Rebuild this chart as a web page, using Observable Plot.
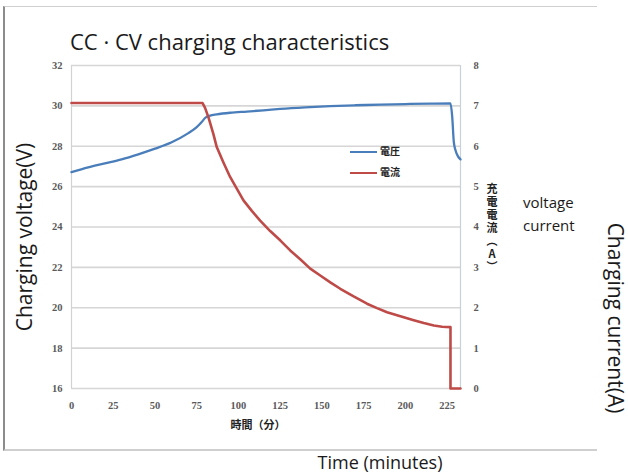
<!DOCTYPE html>
<html>
<head>
<meta charset="utf-8">
<script src="https://cdn.jsdelivr.net/npm/d3@7"></script>
<script src="https://cdn.jsdelivr.net/npm/@observablehq/plot@0.6"></script>
<style>
  html, body { margin: 0; padding: 0; background: #fff; }
  #wrap { position: relative; width: 628px; height: 476px; overflow: hidden; background: #fff; }
  #wrap svg { position: absolute; left: 0; top: 0; }
  .t { position: absolute; white-space: nowrap; font-family: "Open Sans", sans-serif; color: #1a1a1a; line-height: 1; }
  .jp { position: absolute; white-space: nowrap; font-family: "Noto Sans CJK JP", sans-serif; color: #222; font-weight: bold; line-height: 1; }
  .sw { position: absolute; height: 0; }
</style>
</head>
<body>
<div id="wrap">
  <div id="frame" style="position:absolute;left:3px;top:6px;width:592px;height:442px;border-left:2px solid #8c8c8c;border-top:1px solid #cfcfcf;border-bottom:2px solid #cfcfcf;"></div>
</div>
<script>
// Time (minutes)
const voltTime = [0, 10, 20, 30, 40, 50, 60, 70, 75, 78, 80, 83, 87, 95, 105, 115, 125, 140, 155, 170, 185, 200, 215, 227, 228, 229, 230, 231.5, 233];
// Charging voltage (V)
const voltValue = [26.72, 26.95, 27.15, 27.35, 27.6, 27.88, 28.2, 28.65, 28.95, 29.2, 29.4, 29.52, 29.58, 29.66, 29.72, 29.78, 29.85, 29.93, 29.99, 30.03, 30.06, 30.09, 30.11, 30.12, 29.5, 28.2, 27.8, 27.5, 27.35];

const currTime = [0, 78.5, 80, 82, 85, 87, 91, 95, 99, 103, 108, 113, 119, 125, 131, 137, 143, 149, 155, 161, 169, 177, 183, 189, 197, 205, 211, 217, 222, 227, 227, 233];
// Charging current (A)
const currValue = [7.07, 7.07, 6.95, 6.72, 6.3, 5.98, 5.6, 5.24, 4.95, 4.66, 4.4, 4.16, 3.9, 3.67, 3.42, 3.2, 2.97, 2.8, 2.63, 2.47, 2.28, 2.1, 1.99, 1.89, 1.79, 1.69, 1.62, 1.56, 1.53, 1.52, 0, 0];

const xTicks = [0, 25, 50, 75, 100, 125, 150, 175, 200, 225];
const voltTicks = [16, 18, 20, 22, 24, 26, 28, 30, 32];
const currTicks = [0, 1, 2, 3, 4, 5, 6, 7, 8];

const xDomain = [0, 233];
const voltDomain = [16, 32];
const currDomain = [0, 8];

const voltData = voltTime.map((t, i) => ({t, v: voltValue[i]}));
const currData = currTime.map((t, i) => ({t, a: currValue[i]}));

// map current (A) onto voltage scale
const a2v = a => voltDomain[0] + (a - currDomain[0]) * (voltDomain[1] - voltDomain[0]) / (currDomain[1] - currDomain[0]);

const tickFont = {fontFamily: "'Liberation Serif', serif", fontSize: 10.5, fontWeight: "bold", fill: "#5a5a5a"};

const chart = Plot.plot({
  width: 628,
  height: 476,
  marginLeft: 71,
  marginRight: 168,
  marginTop: 65,
  marginBottom: 88,
  style: {background: "transparent", fontFamily: "'Liberation Serif', serif", fontSize: "10.5px", color: "#5a5a5a"},
  x: {domain: xDomain},
  y: {domain: voltDomain},
  marks: [
    Plot.ruleY(voltTicks, {stroke: "#d6d6d6", strokeWidth: 1.6}),
    Plot.ruleX([xDomain[0]], {stroke: "#d2d2d2", strokeWidth: 1.2}),
    Plot.ruleX([xDomain[1]], {stroke: "#c9d0da", strokeWidth: 1.2}),
    Plot.axisX({ticks: xTicks, tickSize: 0, tickPadding: 13, label: null, ...tickFont}),
    Plot.axisY({ticks: voltTicks, tickSize: 0, tickPadding: 9, label: null, ...tickFont}),
    Plot.axisY({anchor: "right", ticks: currTicks.map(a2v), tickFormat: v => String(currTicks[voltTicks.indexOf(v)]), tickSize: 0, tickPadding: 13, label: null, ...tickFont}),
    Plot.line(voltData, {x: "t", y: "v", stroke: "#4a7ebb", strokeWidth: 2.3, curve: "monotone-x"}),
    Plot.line(currData, {x: "t", y: d => a2v(d.a), stroke: "#be4b48", strokeWidth: 2.6, strokeLinejoin: "round"})
  ]
});

const wrap = document.getElementById("wrap");
wrap.appendChild(chart);

function addText(cls, txt, css) {
  const d = document.createElement("div");
  d.className = cls;
  d.textContent = txt;
  Object.assign(d.style, css);
  wrap.appendChild(d);
  return d;
}
function addSwatch(color, css) {
  const d = document.createElement("div");
  d.className = "sw";
  Object.assign(d.style, {borderTop: "2.5px solid " + color}, css);
  wrap.appendChild(d);
}

// Title and overlay labels
addText("t", "CC · CV charging characteristics", {left: "70px", top: "30px", fontSize: "22px"});
addText("t", "Charging voltage(V)", {left: "24px", top: "237px", fontSize: "21px", transform: "translate(-50%,-50%) rotate(-90deg)"});
addText("t", "Charging current(A)", {left: "615px", top: "318px", fontSize: "21px", transform: "translate(-50%,-50%) rotate(90deg)"});
addText("t", "voltage", {left: "523px", top: "195px", fontSize: "15px"});
addText("t", "current", {left: "523px", top: "218px", fontSize: "15px"});
addText("t", "Time (minutes)", {left: "380px", top: "453px", fontSize: "18px", transform: "translateX(-50%)"});

// Japanese axis labels
addText("jp", "時間（分）", {left: "258px", top: "419px", fontSize: "11px", transform: "translateX(-50%)"});
addText("jp", "充電電流（A）", {left: "486px", top: "183px", fontSize: "11px", writingMode: "vertical-rl", textOrientation: "upright", letterSpacing: "2px"});

// Legend
addSwatch("#4a7ebb", {left: "350px", top: "151px", width: "27px"});
addText("jp", "電圧", {left: "380px", top: "146px", fontSize: "10px"});
addSwatch("#be4b48", {left: "350px", top: "172px", width: "27px"});
addText("jp", "電流", {left: "380px", top: "167px", fontSize: "10px"});
</script>
</body>
</html>
